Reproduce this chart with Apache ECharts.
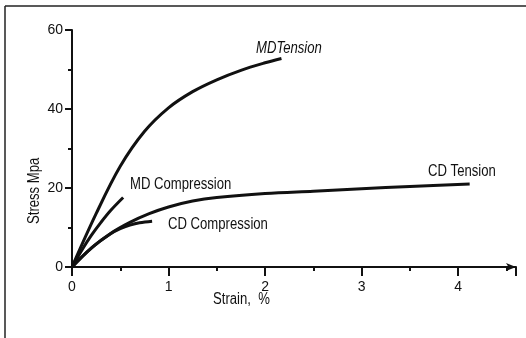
<!DOCTYPE html>
<html>
<head>
<meta charset="utf-8">
<script src="https://cdn.jsdelivr.net/npm/echarts@6/dist/echarts.min.js"></script>
<style>
html,body{margin:0;padding:0;background:#fff;}
#c{width:526px;height:338px;}
</style>
</head>
<body>
<div id="c"></div>
<script>
// Data (strain %, stress MPa)
const mdTensionX = [0, 0.25, 0.5, 0.75, 1.0, 1.25, 1.5, 1.75, 2.0, 2.17];
const mdTensionY = [0, 13.5, 25.5, 34.3, 40.3, 44.4, 47.4, 49.8, 51.7, 52.8];
const mdCompX = [0, 0.1, 0.2, 0.3, 0.4, 0.53];
const mdCompY = [0, 4.2, 8, 11.3, 14.3, 17.6];
const cdTensionX = [0, 0.2, 0.4, 0.6, 0.8, 1.0, 1.25, 1.5, 2.0, 2.5, 3.0, 3.5, 4.12];
const cdTensionY = [0, 4.8, 8.5, 11.3, 13.5, 15.2, 16.7, 17.6, 18.6, 19.2, 19.8, 20.4, 21];
const cdCompX = [0, 0.2, 0.4, 0.5, 0.6, 0.7, 0.83];
const cdCompY = [0, 4.8, 8.4, 9.7, 10.6, 11.2, 11.6];
const curveNames = ['MDTension', 'MD Compression', 'CD Tension', 'CD Compression'];
const xAxisMin = 0, xAxisMax = 4.6, xAxisInterval = 1;
const yAxisMin = 0, yAxisMax = 60, yAxisInterval = 20;

const FONT = '"Liberation Sans", Arial, sans-serif';
const NARROW = 0.82;
const zip = (xs, ys) => xs.map((x, i) => [x, ys[i]]);

const chart = echarts.init(document.getElementById('c'), null, {renderer: 'canvas'});
const lineSeries = (name, xs, ys) => ({
  name, type: 'line', data: zip(xs, ys), smooth: 0.35, symbol: 'none',
  lineStyle: {color: '#111', width: 3}, silent: true, animation: false
});
const label = (text, x, y, font, rotation) => ({
  type: 'text', x, y, scaleX: NARROW, rotation: rotation || 0, silent: true,
  style: {text, font: font + ' ' + FONT, fill: '#111', verticalAlign: 'middle', align: 'left'}
});
chart.setOption({
  animation: false,
  backgroundColor: '#fff',
  grid: {left: 72, right: 10, top: 30, bottom: 71},
  xAxis: {
    type: 'value', min: xAxisMin, max: xAxisMax, interval: xAxisInterval,
    splitLine: {show: false},
    axisLine: {lineStyle: {color: '#111', width: 2}, symbol: ['none', 'arrow'], symbolSize: [6, 10]},
    axisTick: {show: true, length: 9, lineStyle: {color: '#111', width: 2}},
    minorTick: {show: true, splitNumber: 2, length: 4, lineStyle: {color: '#111', width: 2}},
    axisLabel: {margin: 13, color: '#111', fontFamily: FONT, fontSize: 14,
      formatter: v => (Math.abs(v - Math.round(v)) < 1e-9 && v <= 4) ? String(Math.round(v)) : ''}
  },
  yAxis: {
    type: 'value', min: yAxisMin, max: yAxisMax, interval: yAxisInterval,
    splitLine: {show: false},
    axisLine: {show: true, lineStyle: {color: '#111', width: 2}},
    axisTick: {show: true, length: 7, lineStyle: {color: '#111', width: 2}},
    minorTick: {show: true, splitNumber: 2, length: 4, lineStyle: {color: '#111', width: 2}},
    axisLabel: {margin: 9, color: '#111', fontFamily: FONT, fontSize: 14}
  },
  series: [
    lineSeries(curveNames[0], mdTensionX, mdTensionY),
    lineSeries(curveNames[1], mdCompX, mdCompY),
    lineSeries(curveNames[2], cdTensionX, cdTensionY),
    lineSeries(curveNames[3], cdCompX, cdCompY)
  ],
  graphic: [
    {type: 'line', shape: {x1: 5, y1: 6, x2: 526, y2: 6}, style: {stroke: '#222', lineWidth: 1.5}},
    {type: 'line', shape: {x1: 5, y1: 6, x2: 5, y2: 338}, style: {stroke: '#222', lineWidth: 1.5}},
    label(curveNames[0], 256, 49, 'italic 16px'),
    label(curveNames[1], 130, 185, '16px'),
    label(curveNames[2], 428, 172, '16px'),
    label(curveNames[3], 168, 225, '16px'),
    label('Strain,  %', 213, 300, '16px'),
    label('Stress Mpa', 35, 224, '16px', Math.PI / 2)
  ]
});
</script>
</body>
</html>
